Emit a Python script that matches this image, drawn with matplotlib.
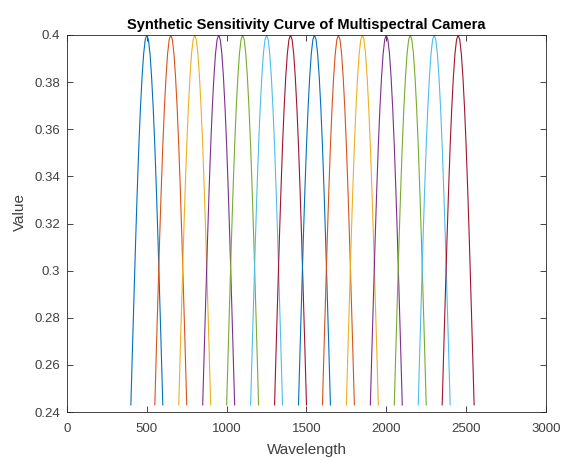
import matplotlib.pyplot as plt

plt.rcParams["font.family"] = ["Liberation Sans", "DejaVu Sans"]

# Band centres (nm) and the common band shape
centers = [500, 650, 800, 950, 1100, 1250, 1400, 1550, 1700, 1850, 2000, 2150, 2300, 2450]
offsets = [-100, -90, -80, -70, -60, -50, -40, -30, -20, -10, 0,
           10, 20, 30, 40, 50, 60, 70, 80, 90, 100]
shape = [0.243, 0.267, 0.290, 0.313, 0.334, 0.353, 0.369, 0.382, 0.392, 0.398, 0.400,
         0.398, 0.392, 0.382, 0.369, 0.353, 0.334, 0.313, 0.290, 0.267, 0.243]

colors = ["#0072BD", "#D95319", "#EDB120", "#7E2F8E", "#77AC30", "#4DBEEE", "#A2142F"]
dark = "#262626"
label_gray = "#404040"

fig = plt.figure(figsize=(5.64, 4.58), dpi=100)
ax = fig.add_axes([0.1188, 0.1004, 0.8492, 0.8232])

for i, c in enumerate(centers):
    ax.plot([c + d for d in offsets], shape, color=colors[i % len(colors)], linewidth=0.8)

ax.set_xlim(0, 3000)
ax.set_ylim(0.24, 0.4)
ax.set_xticks(range(0, 3001, 500))
yt = [0.24, 0.26, 0.28, 0.30, 0.32, 0.34, 0.36, 0.38, 0.40]
ax.set_yticks(yt)
ax.set_yticklabels([f"{v:g}" for v in yt])
ax.tick_params(direction="in", top=True, right=True, length=4, width=0.6,
               color=dark, labelcolor=label_gray, labelsize=9.5)
ax.tick_params(axis="x", pad=8)
ax.tick_params(axis="y", pad=5)
for s in ax.spines.values():
    s.set_color(dark)
    s.set_linewidth(0.6)

ax.set_title("Synthetic Sensitivity Curve of Multispectral Camera",
             fontsize=10.5, fontweight="bold", color="black", pad=4)
ax.set_xlabel("Wavelength", fontsize=11, color=label_gray, labelpad=6)
ax.set_ylabel("Value", fontsize=11, color=label_gray, labelpad=6)
ax.yaxis.set_label_coords(-0.083, 0.53)

fig.savefig("out.png", dpi=100)
